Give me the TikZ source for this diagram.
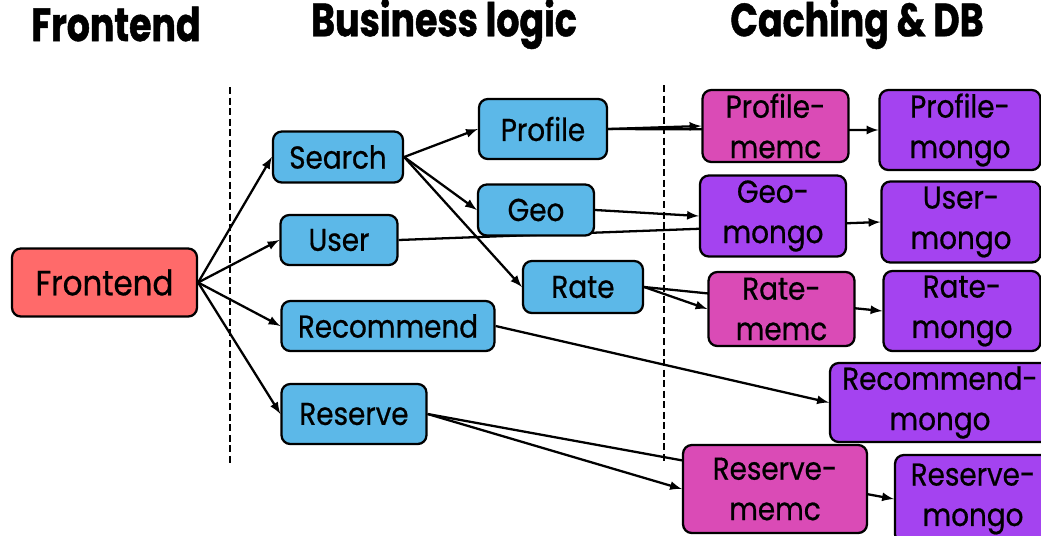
\documentclass[tikz,border=0pt]{standalone}
\usepackage{fontspec}
\setmainfont{Poppins}[FakeStretch=0.88, FakeBold=0.6]
\newfontfamily\headfont{Poppins}[FakeStretch=0.78, BoldFeatures={FakeBold=1}]
\usetikzlibrary{backgrounds}

\definecolor{frontred}{HTML}{FF6A6A}
\definecolor{logicblue}{HTML}{5CB8E8}
\definecolor{memcpink}{HTML}{DA4BB6}
\definecolor{mongopurple}{HTML}{A443F0}

\tikzset{
  box/.style={draw=black, line width=1.3pt, rounded corners=5pt, align=center,
    inner sep=0pt, font=\fontsize{18}{23}\selectfont},
  logic/.style={box, fill=logicblue, minimum height=1cm},
  memc/.style={box, fill=memcpink},
  mongo/.style={box, fill=mongopurple},
  head/.style={font=\headfont\bfseries\fontsize{26.5}{30}\selectfont},
  link/.style={->, >=latex, line width=1.3pt},
  tier/.style={line width=1.2pt, dash pattern=on 4pt off 2pt},
}

\begin{document}
\begin{tikzpicture}[x=0.02cm, y=-0.02cm]
	\useasboundingbox (0,0) rectangle (1041,535);

	% column titles
	\node[head] (tfront) at (116,24) {Frontend};
	\node[head] (tlogic) at (444,24) {Business logic};
	\node[head] (tcache) at (857,24) {Caching \& DB};

	% tier separators
	\draw[tier] (230,87) -- (230,465);
	\draw[tier] (664,85) -- (664,463);

	% frontend
	\node[box, fill=frontred, minimum width=3.7cm, minimum height=1.36cm,
		font=\fontsize{20}{24}\selectfont] (front) at (104.5,282.5) {Frontend};

	% business logic
	\node[logic, minimum width=2.6cm, minimum height=1.02cm] (search) at (338,157) {Search};
	\node[logic, minimum width=2.34cm] (user) at (339,240) {User};
	\node[logic, minimum width=4.26cm] (recommend) at (388,326) {Recommend};
	\node[logic, minimum width=2.9cm, minimum height=1.2cm] (reserve) at (354,414) {Reserve};
	\node[logic, minimum width=2.56cm, minimum height=1.2cm] (profile) at (543,129) {Profile};
	\node[logic, minimum width=2.32cm, minimum height=1.02cm] (geo) at (536,210) {Geo};
	\node[logic, minimum width=2.4cm, minimum height=1.04cm] (rate) at (583,287) {Rate};

	% caches and databases
	\node[memc, minimum width=2.92cm, minimum height=1.44cm] (profmemc) at (775.5,126) {Profile-\\memc};
	\node[mongo, minimum width=2.92cm, minimum height=1.62cm] (geomongo) at (773,216) {Geo-\\mongo};
	\node[memc, minimum width=2.92cm, minimum height=1.48cm] (ratememc) at (781.5,309) {Rate-\\memc};
	\node[mongo, minimum width=3.22cm, minimum height=1.6cm] (profmongo) at (960,130) {Profile-\\mongo};
	\node[mongo, minimum width=3.18cm, minimum height=1.62cm] (usermongo) at (961,222) {User-\\mongo};
	\node[mongo, minimum width=3.14cm, minimum height=1.6cm] (ratemongo) at (962,311) {Rate-\\mongo};
	\node[mongo, minimum width=4.4cm, minimum height=1.58cm] (recmongo) at (940,402.5) {Recommend-\\mongo};
	\node[memc, minimum width=3.68cm, minimum height=1.76cm] (resmemc) at (775,489) {Reserve-\\memc};
	\node[mongo, minimum width=3.12cm, minimum height=1.76cm] (resmongo) at (973,499) {Reserve-\\mongo};

	\begin{pgfonlayer}{background}
		\draw[link] (front.east) -- (search.west);
		\draw[link] (front.east) -- (user.west);
		\draw[link] (front.east) -- (recommend.west);
		\draw[link] (front.east) -- (reserve.west);

		\draw[link] (search.east) -- (profile.west);
		\draw[link] (search.east) -- (geo.west);
		\draw[link] (search.east) -- (rate.west);

		\draw[link] (profile.east) -- (profmemc.west);
		\draw[link] (profile.east) -- (profmongo.west);
		\draw[link] (geo.east) -- (geomongo.west);
		\draw[link] (user.east) -- (usermongo.west);
		\draw[link] (rate.east) -- (ratememc.west);
		\draw[link] (rate.east) -- (ratemongo.west);
		\draw[link] (recommend.east) -- (recmongo.west);
		\draw[link] (reserve.east) -- (resmemc.west);
		\draw[link] (reserve.east) -- (resmongo.west);
	\end{pgfonlayer}
\end{tikzpicture}
\end{document}
